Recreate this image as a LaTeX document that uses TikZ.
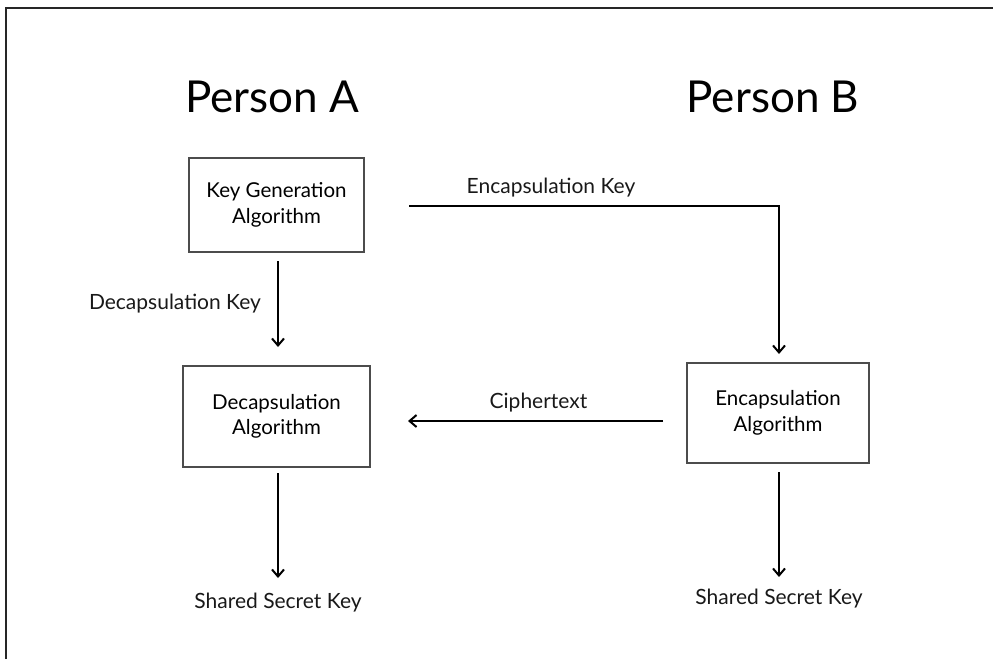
\documentclass[tikz,border=0pt]{standalone}
\usepackage{fontspec}
\setmainfont{Lato}
\usetikzlibrary{arrows.meta}
\begin{document}
\begin{tikzpicture}[x=1pt,y=-1pt,
  algbox/.style={draw=black!70,line width=1.3pt,align=center,font=\fontsize{20.5}{25.5}\selectfont,inner sep=0pt},
  flow/.style={line width=2.2pt,-{Straight Barb[length=7pt,width=12pt,line width=2pt]}},
  lbl/.style={font=\fontsize{21}{24}\selectfont,inner sep=0pt,text=black!90},
  head/.style={font=\fontsize{44}{48}\selectfont,inner sep=0pt}]
\useasboundingbox (0,0) rectangle (993,659);
% page frame (top and left edges)
\draw[line width=1.6pt,black!85] (6,659) -- (6,8) -- (993,8);

% headings
\node[head] (pa) at (272,97) {Person A};
\node[head] (pb) at (773,97) {Person B};

% algorithm boxes
\node[algbox,minimum width=175pt,minimum height=94pt] (kg) at (276.5,205) {Key Generation\\Algorithm};
\node[algbox,minimum width=187pt,minimum height=101pt] (dec) at (276.5,416.5) {Decapsulation\\Algorithm};
\node[algbox,minimum width=182pt,minimum height=100pt] (enc) at (778,413) {Encapsulation\\Algorithm};

% outputs
\node[lbl] (ssa) at (278,603) {Shared Secret Key};
\node[lbl] (ssb) at (779,599) {Shared Secret Key};

% connector anchors
\coordinate (kgB) at (278,261);
\coordinate (decT) at (278,347);
\coordinate (kgR) at (409,206);
\coordinate (bend) at (779,206);
\coordinate (encT) at (779,354);
\coordinate (encL) at (663,421);
\coordinate (decR) at (408,421);
\coordinate (decB) at (278,473);
\coordinate (ssaT) at (278,578);
\coordinate (encB) at (779,472);
\coordinate (ssbT) at (779,577);

% connectors
\draw[flow] (kgB) -- node[lbl,left=16pt,pos=0.5] (dk) {Decapsulation Key} (decT);
\draw[flow] (kgR) -- (bend) -- (encT);
\node[lbl] (ek) at (551,188) {Encapsulation Key};
\draw[flow] (encL) -- node[lbl,above=8pt,xshift=3pt] (ct) {Ciphertext} (decR);
\draw[flow] (decB) -- (ssaT);
\draw[flow] (encB) -- (ssbT);
\end{tikzpicture}
\end{document}
